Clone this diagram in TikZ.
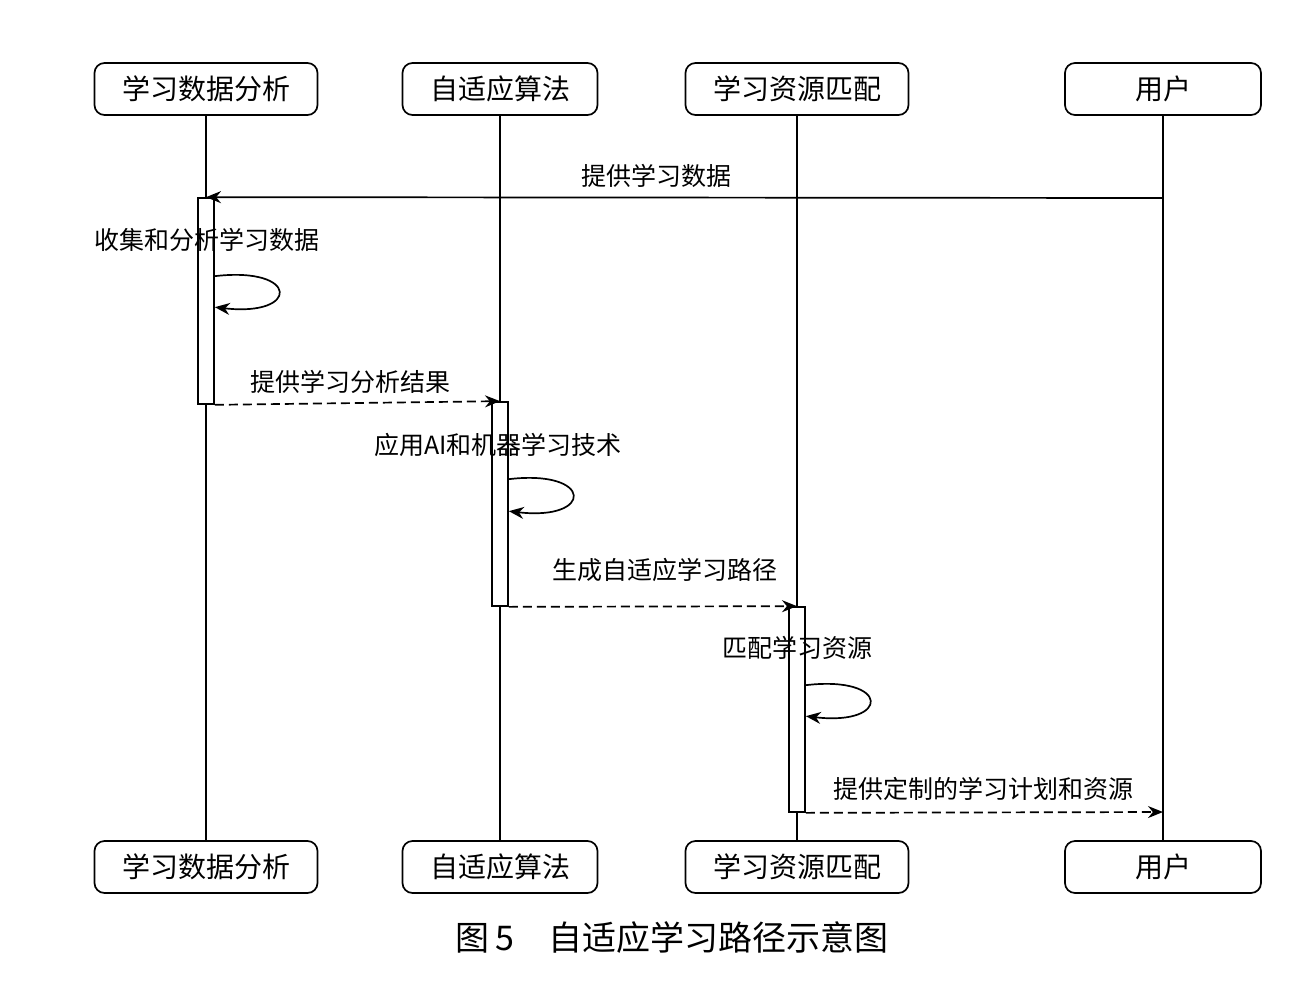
\documentclass[tikz,border=0pt]{standalone}
\usepackage{fontspec}
\setmainfont{Liberation Serif}
\newfontfamily\cjk{Noto Sans CJK SC}[Scale=1]
\usetikzlibrary{arrows.meta}
\begin{document}
\begin{tikzpicture}[x=1pt,y=-1pt,line width=1.7pt,
  actor/.style={draw,line width=1.7pt,rounded corners=10pt,minimum height=52pt,inner sep=0pt,font=\cjk\fontsize{28}{30}\selectfont},
  bar/.style={draw,fill=white,line width=1.7pt},
  msg/.style={line width=1.7pt,-{Stealth[length=15pt,width=12pt]}},
  dsh/.style={dash pattern=on 9pt off 5pt},
  lbl/.style={font=\cjk\fontsize{25}{28}\selectfont,inner sep=0pt}]
\useasboundingbox (0,0) rectangle (1309,980);
\foreach \n/\x/\w/\t in {a/206/223/学习数据分析,b/500/195/自适应算法,c/797/223/学习资源匹配,d/1163/196/用户}{
  \node[actor,minimum width=\w pt] (\n t) at (\x,89) {\t};
  \node[actor,minimum width=\w pt] (\n b) at (\x,867) {\t};
  \draw (\n t.south) -- (\n b.north);
}
\node[bar,minimum width=16pt,minimum height=206pt,inner sep=0pt] (ba) at (206,301) {};
\node[bar,minimum width=16pt,minimum height=204pt,inner sep=0pt] (bb) at (500,504) {};
\node[bar,minimum width=16pt,minimum height=205pt,inner sep=0pt] (bc) at (797,709.5) {};
\coordinate (u1) at (1163,198);
\draw[msg] (u1) -- (ba.north);
\node[lbl] at (656,176) {提供学习数据};
\node[lbl] at (207,240) {收集和分析学习数据};
\draw[msg] ([yshift=-79pt]ba.north east) .. controls +(85,-10) and +(85,10) .. ([yshift=-110pt]ba.north east);
\draw[msg,dsh] (ba.south east) -- (bb.north);
\node[lbl] at (350,382) {提供学习分析结果};
\node[lbl] at (498,445) {应用AI和机器学习技术};
\draw[msg] ([yshift=-78pt]bb.north east) .. controls +(85,-10) and +(85,10) .. ([yshift=-110pt]bb.north east);
\draw[msg,dsh] (bb.south east) -- (bc.north);
\node[lbl] at (665,570) {生成自适应学习路径};
\node[lbl] at (797,648) {匹配学习资源};
\draw[msg] ([yshift=-79pt]bc.north east) .. controls +(85,-10) and +(85,10) .. ([yshift=-110pt]bc.north east);
\coordinate (u2) at (1163,812);
\draw[msg,dsh] (bc.south east) -- (u2);
\node[lbl] at (983,789) {提供定制的学习计划和资源};
\node[font=\cjk\fontsize{34}{36}\selectfont] (cap) at (672,938) {图\,5\quad 自适应学习路径示意图};
\end{tikzpicture}
\end{document}
